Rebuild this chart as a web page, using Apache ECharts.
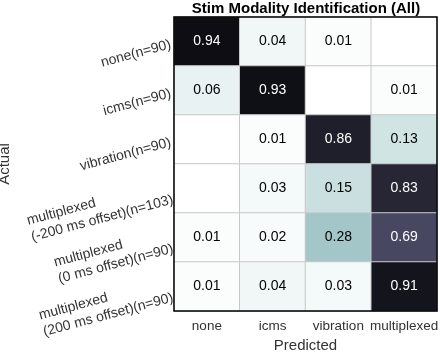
<!DOCTYPE html>
<html>
<head>
<meta charset="utf-8">
<script src="https://cdn.jsdelivr.net/npm/echarts@6/dist/echarts.min.js"></script>
<style>
	html, body { margin: 0; padding: 0; background: #fff; }
	#chart { width: 440px; height: 352px; }
</style>
</head>
<body>
<div id="chart"></div>
<script>
//类别
var predicted = ['none', 'icms', 'vibration', 'multiplexed'];
var actual = [
	'none(n=90)',
	'icms(n=90)',
	'vibration(n=90)',
	'multiplexed\n(-200 ms offset)(n=103)',
	'multiplexed\n(0 ms offset)(n=90)',
	'multiplexed\n(200 ms offset)(n=90)'
];
//每一行的比例 (null = 空格)
var rowNone = [0.94, 0.04, 0.01, null];
var rowIcms = [0.06, 0.93, null, 0.01];
var rowVibration = [null, 0.01, 0.86, 0.13];
var rowMinus200 = [null, 0.03, 0.15, 0.83];
var rowZero = [0.01, 0.02, 0.28, 0.69];
var rowPlus200 = [0.01, 0.04, 0.03, 0.91];
var rows = [rowNone, rowIcms, rowVibration, rowMinus200, rowZero, rowPlus200];

//反转的 bone 色图
var boneReversed = ['#ffffff', '#dbeaea', '#b9d6d6', '#9dc3c4', '#86a4ac', '#707b8f',
	'#595c79', '#45455f', '#2d2d3e', '#16161f', '#000000'];

var data = [];
rows.forEach(function(row, y) {
	row.forEach(function(v, x) {
		data.push({
			value: [x, y, v === null ? 0 : v],
			label: {
				show: v !== null,
				color: v !== null && v > 0.5 ? '#ffffff' : '#000000'
			}
		});
	});
});

var myChart = echarts.init(document.getElementById('chart'));
var option = {
	animation: false,
	title: {
		text: 'Stim Modality Identification (All)',
		left: 306,
		top: 0,
		textAlign: 'center',
		padding: [1, 0, 0, 0],
		textStyle: {
			fontFamily: 'Liberation Sans',
			fontSize: 15,
			fontWeight: 'bold',
			color: '#000'
		}
	},
	grid: {
		left: 174,
		top: 17,
		right: 3,
		bottom: 41,
		outerBoundsMode: 'none',
		containLabel: false,
		show: true,
		z: 10,
		borderColor: '#000',
		borderWidth: 1.5,
		backgroundColor: 'transparent'
	},
	xAxis: {
		type: 'category',
		data: predicted,
		name: 'Predicted',
		nameLocation: 'middle',
		nameGap: 25,
		nameTextStyle: { fontFamily: 'Liberation Sans', fontSize: 15, color: '#333' },
		axisLine: { show: false },
		axisTick: { show: false },
		splitLine: { show: false },
		axisLabel: { interval: 0, fontFamily: 'Liberation Sans', fontSize: 13.5, color: '#333', margin: 8 }
	},
	yAxis: {
		type: 'category',
		data: actual,
		inverse: true,
		name: 'Actual',
		nameLocation: 'middle',
		nameGap: 154,
		nameRotate: 90,
		nameTextStyle: { fontFamily: 'Liberation Sans', fontSize: 15, color: '#333' },
		axisLine: { show: false },
		axisTick: { show: false },
		splitLine: { show: false },
		axisLabel: {
			interval: 0,
			rotate: 15,
			margin: 4,
			padding: [6, 0, 0, 0],
			fontFamily: 'Liberation Sans',
			fontSize: 14,
			color: '#333',
			lineHeight: 17,
			formatter: function(v) {
				return v.split('\n').map(function(s) { return '{l|' + s + '}'; }).join('\n');
			},
			rich: {
				l: { align: 'left', fontFamily: 'Liberation Sans', fontSize: 14, color: '#333', lineHeight: 17 }
			}
		}
	},
	visualMap: {
		show: false,
		type: 'continuous',
		min: 0,
		max: 1,
		dimension: 2,
		inRange: { color: boneReversed }
	},
	series: [{
		type: 'heatmap',
		data: data,
		itemStyle: { borderColor: '#c8c8c8', borderWidth: 1 },
		label: {
			fontFamily: 'Liberation Sans',
			fontSize: 14,
			formatter: function(p) { return p.value[2].toFixed(2); }
		},
		emphasis: { disabled: true }
	}]
};
myChart.setOption(option);
</script>
</body>
</html>
